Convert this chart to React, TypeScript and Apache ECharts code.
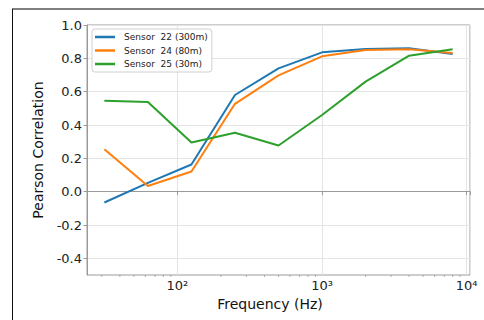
import React, { useEffect, useRef } from "react";
import * as echarts from "echarts";

const frequencies = [31.25, 62.5, 125, 250, 500, 1000, 2000, 4000, 8000];
const sensor22 = [-0.065, 0.053, 0.163, 0.58, 0.74, 0.836, 0.856, 0.86, 0.826];
const sensor24 = [0.254, 0.034, 0.121, 0.527, 0.698, 0.812, 0.85, 0.854, 0.832];
const sensor25 = [0.545, 0.538, 0.295, 0.353, 0.277, 0.46, 0.66, 0.816, 0.854];
const seriesNames = ["Sensor  22 (300m)", "Sensor  24 (80m)", "Sensor  25 (30m)"];
const yTicks = [-0.4, -0.2, 0.0, 0.2, 0.4, 0.6, 0.8, 1.0];
const minorTicks = [30, 40, 50, 60, 70, 80, 90, 200, 300, 400, 500, 600, 700, 800, 900, 2000, 3000, 4000, 5000, 6000, 7000, 8000, 9000];
const sup: Record<number, string> = { 1: "¹", 2: "²", 3: "³", 4: "⁴" };

const FONT = "DejaVu Sans";

export default function App() {
  const ref = useRef<HTMLDivElement>(null);
  useEffect(() => {
    if (!ref.current) return;
    const chart = echarts.init(ref.current, null, { renderer: "svg" });
    const colors = ["#1f77b4", "#ff7f0e", "#2ca02c"];
    const values = [sensor22, sensor24, sensor25];
    chart.setOption({
      animation: false,
      backgroundColor: "#ffffff",
      textStyle: { fontFamily: FONT },
      grid: {
        left: 87,
        top: 25,
        right: 14,
        bottom: 45,
        show: true,
        borderColor: "#9a9a9a",
        borderWidth: 1,
        backgroundColor: "transparent",
      },
      legend: {
        data: seriesNames,
        left: 92,
        top: 29,
        orient: "vertical",
        icon: "rect",
        itemWidth: 20,
        itemHeight: 2.5,
        itemGap: 2.5,
        padding: [2.5, 4, 2.5, 3],
        backgroundColor: "#ffffff",
        borderColor: "#d0d0d0",
        borderWidth: 1,
        borderRadius: 3,
        textStyle: {
          fontFamily: FONT,
          fontSize: 9,
          lineHeight: 11,
          color: "#222",
          padding: [0, 0, 0, 4],
        },
      },
      xAxis: {
        type: "log",
        logBase: 10,
        min: 23.7,
        max: 10544,
        name: "Frequency (Hz)",
        nameLocation: "middle",
        nameGap: 17,
        nameTextStyle: { fontFamily: FONT, fontSize: 14, color: "#111", padding: [0, 17, 0, 0] },
        axisLine: { show: true, lineStyle: { color: "#9a9a9a", width: 1 } },
        axisTick: { show: true, length: 3.5, lineStyle: { color: "#9a9a9a" } },
        axisLabel: {
          fontFamily: FONT,
          fontSize: 13,
          color: "#222",
          margin: 4,
          formatter: (v: number) => {
            const e = Math.log10(v);
            if (Math.abs(e - Math.round(e)) > 1e-6) return "";
            return "10" + (sup[Math.round(e)] || "");
          },
        },
        splitLine: { show: true, lineStyle: { color: "#e4e4e4", width: 1 } },
      },
      yAxis: {
        type: "value",
        min: -0.5,
        max: 1.0,
        name: "Pearson Correlation",
        nameLocation: "middle",
        nameGap: 42,
        nameTextStyle: { fontFamily: FONT, fontSize: 14, color: "#111" },
        axisLine: { show: true, lineStyle: { color: "#9a9a9a", width: 1 } },
        axisTick: { show: true, length: 3.5, lineStyle: { color: "#9a9a9a" }, customValues: yTicks },
        axisLabel: {
          fontFamily: FONT,
          fontSize: 13,
          color: "#222",
          margin: 5,
          customValues: yTicks,
          formatter: (v: number) => v.toFixed(1),
        },
        splitLine: { show: true, lineStyle: { color: "#e4e4e4", width: 1 } },
      },
      graphic: [
        { type: "line", shape: { x1: 12, y1: 9, x2: 484, y2: 9 }, style: { stroke: "#555", lineWidth: 1.5 }, z: 100 },
        { type: "line", shape: { x1: 12.5, y1: 9, x2: 12.5, y2: 320 }, style: { stroke: "#111", lineWidth: 1 }, z: 100 },
      ],
      series: [
        ...values.map((vals, i) => ({
          name: seriesNames[i],
          type: "line",
          data: frequencies.map((f, j) => [f, vals[j]]),
          symbol: "none",
          lineStyle: { color: colors[i], width: 2 },
          itemStyle: { color: colors[i] },
          z: 3 + i,
        })),
        {
          name: "minor",
          type: "custom",
          silent: true,
          clip: false,
          data: minorTicks.map((f) => [f, -0.5]),
          renderItem: (_p: any, api: any) => {
            const pt = api.coord([api.value(0), api.value(1)]);
            return {
              type: "line",
              shape: { x1: pt[0], y1: pt[1], x2: pt[0], y2: pt[1] + 2 },
              style: { stroke: "#9a9a9a", lineWidth: 0.8 },
            };
          },
        },
      ],
    });
    return () => chart.dispose();
  }, []);
  return <div ref={ref} style={{ width: 484, height: 320, position: "fixed", left: 0, top: 0 }} />;
}
